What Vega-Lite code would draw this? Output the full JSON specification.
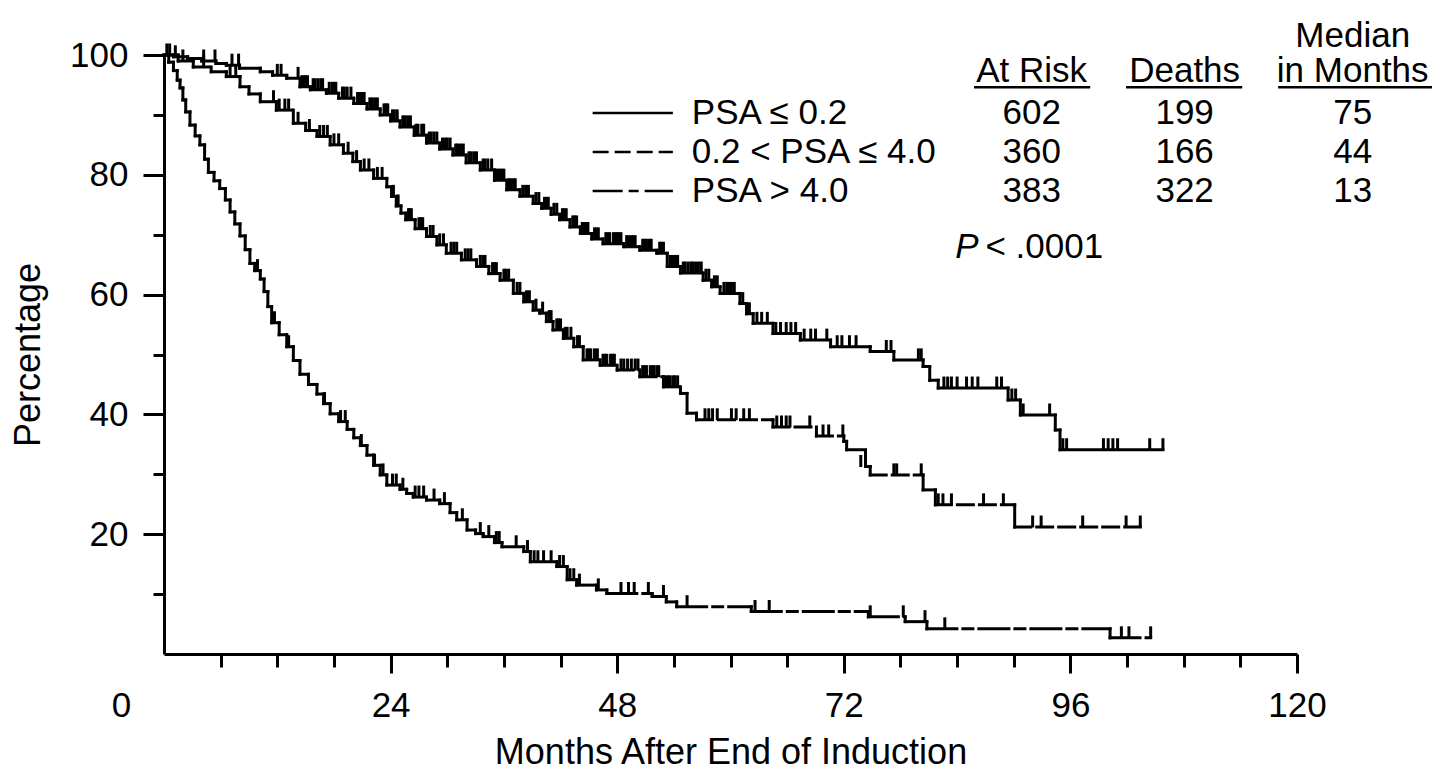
{
  "$schema": "https://vega.github.io/schema/vega-lite/v6.json",
  "width": 1133,
  "height": 599,
  "autosize": {"type": "none"},
  "padding": {"left": 164, "top": 55, "right": 148, "bottom": 126},
  "background": "white",
  "config": {
    "view": {"stroke": null},
    "font": "Liberation Sans",
    "text": {"color": "black", "font": "Liberation Sans", "fontSize": 35},
    "axis": {
      "grid": false,
      "labelFont": "Liberation Sans",
      "titleFont": "Liberation Sans",
      "labelColor": "black",
      "titleColor": "black",
      "domainColor": "black",
      "tickColor": "black",
      "titleFontWeight": "normal",
      "labelFontSize": 35,
      "titleFontSize": 36,
      "domainWidth": 3,
      "tickWidth": 3,
      "labelOverlap": false,
      "labelFlush": false
    }
  },
  "datasets": {
    "km": [
      {"g": "le", "t": 0, "s": 100}, {"g": "le", "t": 1.0, "s": 99.7}, {"g": "le", "t": 2.5, "s": 99.4}, {"g": "le", "t": 4.0, "s": 99.0},
      {"g": "le", "t": 5.5, "s": 98.6}, {"g": "le", "t": 6.6, "s": 98.3}, {"g": "le", "t": 8.0, "s": 97.8}, {"g": "le", "t": 10.2, "s": 97.2},
      {"g": "le", "t": 11.5, "s": 96.6}, {"g": "le", "t": 13.0, "s": 96.1}, {"g": "le", "t": 14.4, "s": 94.7}, {"g": "le", "t": 15.5, "s": 94.2},
      {"g": "le", "t": 17.2, "s": 93.6}, {"g": "le", "t": 18.5, "s": 92.8}, {"g": "le", "t": 20.1, "s": 91.9}, {"g": "le", "t": 21.5, "s": 91.0},
      {"g": "le", "t": 22.9, "s": 90.0}, {"g": "le", "t": 24.0, "s": 89.0}, {"g": "le", "t": 25.0, "s": 88.0}, {"g": "le", "t": 26.5, "s": 86.6},
      {"g": "le", "t": 27.8, "s": 85.3}, {"g": "le", "t": 29.2, "s": 84.3}, {"g": "le", "t": 30.6, "s": 83.3}, {"g": "le", "t": 32.0, "s": 82.0},
      {"g": "le", "t": 33.5, "s": 80.8}, {"g": "le", "t": 35.0, "s": 79.1}, {"g": "le", "t": 36.3, "s": 77.5}, {"g": "le", "t": 37.7, "s": 76.4},
      {"g": "le", "t": 39.1, "s": 75.2}, {"g": "le", "t": 40.0, "s": 74.4}, {"g": "le", "t": 41.0, "s": 73.4}, {"g": "le", "t": 41.9, "s": 72.5},
      {"g": "le", "t": 43.0, "s": 71.3}, {"g": "le", "t": 44.1, "s": 70.2}, {"g": "le", "t": 45.3, "s": 69.3}, {"g": "le", "t": 46.5, "s": 68.5},
      {"g": "le", "t": 48.7, "s": 68.0}, {"g": "le", "t": 50.4, "s": 67.4}, {"g": "le", "t": 52.2, "s": 66.9}, {"g": "le", "t": 53.3, "s": 64.7},
      {"g": "le", "t": 54.7, "s": 63.6}, {"g": "le", "t": 57.1, "s": 62.4}, {"g": "le", "t": 58.0, "s": 61.3}, {"g": "le", "t": 58.9, "s": 60.2},
      {"g": "le", "t": 61.0, "s": 58.5}, {"g": "le", "t": 61.7, "s": 56.8}, {"g": "le", "t": 62.4, "s": 55.2}, {"g": "le", "t": 64.5, "s": 53.5},
      {"g": "le", "t": 67.4, "s": 52.4}, {"g": "le", "t": 70.6, "s": 51.3}, {"g": "le", "t": 74.8, "s": 50.5}, {"g": "le", "t": 77.3, "s": 49.1},
      {"g": "le", "t": 80.4, "s": 48.0}, {"g": "le", "t": 81.1, "s": 45.7}, {"g": "le", "t": 82.0, "s": 44.4}, {"g": "le", "t": 89.4, "s": 42.4},
      {"g": "le", "t": 90.7, "s": 39.9}, {"g": "le", "t": 94.4, "s": 37.4}, {"g": "le", "t": 94.9, "s": 34.1}, {"g": "le", "t": 105.8, "s": 34.1},

      {"g": "mid", "t": 0, "s": 100}, {"g": "mid", "t": 1.5, "s": 99.0}, {"g": "mid", "t": 3.1, "s": 98.0}, {"g": "mid", "t": 5.0, "s": 97.2},
      {"g": "mid", "t": 6.6, "s": 96.4}, {"g": "mid", "t": 8.05, "s": 94.7}, {"g": "mid", "t": 9.0, "s": 93.5}, {"g": "mid", "t": 10.2, "s": 92.2},
      {"g": "mid", "t": 11.9, "s": 90.8}, {"g": "mid", "t": 13.7, "s": 88.6}, {"g": "mid", "t": 15.0, "s": 87.4}, {"g": "mid", "t": 16.2, "s": 86.4},
      {"g": "mid", "t": 17.6, "s": 85.0}, {"g": "mid", "t": 19.0, "s": 83.6}, {"g": "mid", "t": 20.0, "s": 82.2}, {"g": "mid", "t": 20.8, "s": 80.8},
      {"g": "mid", "t": 22.2, "s": 79.4}, {"g": "mid", "t": 23.6, "s": 78.0}, {"g": "mid", "t": 24.1, "s": 76.4}, {"g": "mid", "t": 24.6, "s": 74.8},
      {"g": "mid", "t": 25.1, "s": 73.6}, {"g": "mid", "t": 25.6, "s": 72.5}, {"g": "mid", "t": 26.6, "s": 71.0}, {"g": "mid", "t": 27.8, "s": 69.7},
      {"g": "mid", "t": 28.9, "s": 68.3}, {"g": "mid", "t": 29.9, "s": 66.9}, {"g": "mid", "t": 31.5, "s": 65.8}, {"g": "mid", "t": 33.1, "s": 64.7},
      {"g": "mid", "t": 34.4, "s": 63.5}, {"g": "mid", "t": 35.6, "s": 62.4}, {"g": "mid", "t": 37.0, "s": 60.2}, {"g": "mid", "t": 38.1, "s": 58.8},
      {"g": "mid", "t": 39.1, "s": 57.4}, {"g": "mid", "t": 39.8, "s": 56.9}, {"g": "mid", "t": 40.5, "s": 55.5}, {"g": "mid", "t": 41.2, "s": 54.1},
      {"g": "mid", "t": 42.3, "s": 52.7}, {"g": "mid", "t": 43.4, "s": 51.3}, {"g": "mid", "t": 44.4, "s": 49.1}, {"g": "mid", "t": 46.2, "s": 48.2},
      {"g": "mid", "t": 48.0, "s": 47.4}, {"g": "mid", "t": 50.4, "s": 46.3}, {"g": "mid", "t": 52.9, "s": 44.6}, {"g": "mid", "t": 54.7, "s": 43.5},
      {"g": "mid", "t": 55.4, "s": 40.2}, {"g": "mid", "t": 56.4, "s": 39.1}, {"g": "mid", "t": 64.5, "s": 37.9}, {"g": "mid", "t": 69.1, "s": 36.4},
      {"g": "mid", "t": 72.0, "s": 35.5}, {"g": "mid", "t": 72.3, "s": 34.1}, {"g": "mid", "t": 74.3, "s": 31.3}, {"g": "mid", "t": 74.8, "s": 29.9},
      {"g": "mid", "t": 80.4, "s": 27.4}, {"g": "mid", "t": 81.7, "s": 24.9}, {"g": "mid", "t": 90.1, "s": 21.2}, {"g": "mid", "t": 103.4, "s": 21.2},

      {"g": "hi", "t": 0, "s": 100}, {"g": "hi", "t": 0.5, "s": 98.8}, {"g": "hi", "t": 1.0, "s": 97.4}, {"g": "hi", "t": 1.4, "s": 95.8},
      {"g": "hi", "t": 1.7, "s": 94.5}, {"g": "hi", "t": 2.0, "s": 92.5}, {"g": "hi", "t": 2.3, "s": 90.5}, {"g": "hi", "t": 2.75, "s": 88.3},
      {"g": "hi", "t": 3.3, "s": 86.5}, {"g": "hi", "t": 3.8, "s": 85.0}, {"g": "hi", "t": 4.3, "s": 82.6}, {"g": "hi", "t": 4.7, "s": 80.4},
      {"g": "hi", "t": 5.3, "s": 79.0}, {"g": "hi", "t": 5.9, "s": 77.7}, {"g": "hi", "t": 6.5, "s": 75.8}, {"g": "hi", "t": 7.0, "s": 73.8},
      {"g": "hi", "t": 7.5, "s": 71.8}, {"g": "hi", "t": 8.05, "s": 69.8}, {"g": "hi", "t": 8.6, "s": 67.5}, {"g": "hi", "t": 9.1, "s": 65.2},
      {"g": "hi", "t": 9.6, "s": 64.0}, {"g": "hi", "t": 10.2, "s": 62.6}, {"g": "hi", "t": 10.6, "s": 60.5}, {"g": "hi", "t": 11.0, "s": 58.0},
      {"g": "hi", "t": 11.4, "s": 55.3}, {"g": "hi", "t": 12.2, "s": 53.3}, {"g": "hi", "t": 13.0, "s": 51.3}, {"g": "hi", "t": 13.7, "s": 49.0},
      {"g": "hi", "t": 14.4, "s": 46.7}, {"g": "hi", "t": 15.3, "s": 45.0}, {"g": "hi", "t": 16.2, "s": 43.4}, {"g": "hi", "t": 16.9, "s": 41.8},
      {"g": "hi", "t": 17.6, "s": 40.1}, {"g": "hi", "t": 18.5, "s": 38.8}, {"g": "hi", "t": 19.4, "s": 37.5}, {"g": "hi", "t": 20.1, "s": 36.1},
      {"g": "hi", "t": 20.8, "s": 34.8}, {"g": "hi", "t": 21.5, "s": 33.2}, {"g": "hi", "t": 22.2, "s": 31.5}, {"g": "hi", "t": 22.9, "s": 29.9},
      {"g": "hi", "t": 23.6, "s": 28.2}, {"g": "hi", "t": 25.0, "s": 27.5}, {"g": "hi", "t": 25.7, "s": 26.8}, {"g": "hi", "t": 26.4, "s": 26.2},
      {"g": "hi", "t": 27.8, "s": 25.7}, {"g": "hi", "t": 29.2, "s": 25.1}, {"g": "hi", "t": 30.3, "s": 23.6}, {"g": "hi", "t": 31.0, "s": 22.4},
      {"g": "hi", "t": 32.1, "s": 20.7}, {"g": "hi", "t": 33.0, "s": 20.1}, {"g": "hi", "t": 33.8, "s": 19.6}, {"g": "hi", "t": 35.0, "s": 18.6},
      {"g": "hi", "t": 35.8, "s": 17.9}, {"g": "hi", "t": 38.1, "s": 17.1}, {"g": "hi", "t": 38.8, "s": 15.4}, {"g": "hi", "t": 41.6, "s": 14.6},
      {"g": "hi", "t": 42.7, "s": 12.4}, {"g": "hi", "t": 43.7, "s": 11.5}, {"g": "hi", "t": 45.8, "s": 10.7}, {"g": "hi", "t": 46.9, "s": 10.1},
      {"g": "hi", "t": 51.7, "s": 9.6}, {"g": "hi", "t": 53.2, "s": 8.7}, {"g": "hi", "t": 54.3, "s": 7.9}, {"g": "hi", "t": 62.2, "s": 7.1},
      {"g": "hi", "t": 74.6, "s": 6.2}, {"g": "hi", "t": 78.5, "s": 5.4}, {"g": "hi", "t": 80.8, "s": 4.2}, {"g": "hi", "t": 100.2, "s": 2.7},
      {"g": "hi", "t": 104.5, "s": 2.7}
    ],
    "cens": [
      {"g": "le", "t": 0.3, "s": 100}, {"g": "le", "t": 0.6, "s": 100}, {"g": "le", "t": 1.2, "s": 99.7}, {"g": "le", "t": 4.2, "s": 99.0},
      {"g": "le", "t": 5.4, "s": 99.0}, {"g": "le", "t": 7.2, "s": 98.3}, {"g": "le", "t": 7.9, "s": 98.3}, {"g": "le", "t": 12.0, "s": 96.6},
      {"g": "le", "t": 12.4, "s": 96.6}, {"g": "le", "t": 14.2, "s": 96.1}, {"g": "le", "t": 14.6, "s": 94.7}, {"g": "le", "t": 14.8, "s": 94.7},
      {"g": "le", "t": 15.0, "s": 94.7}, {"g": "le", "t": 15.2, "s": 94.7}, {"g": "le", "t": 15.8, "s": 94.2}, {"g": "le", "t": 16.0, "s": 94.2},
      {"g": "le", "t": 16.3, "s": 94.2}, {"g": "le", "t": 16.6, "s": 94.2}, {"g": "le", "t": 16.8, "s": 94.2}, {"g": "le", "t": 17.5, "s": 93.6},
      {"g": "le", "t": 17.8, "s": 93.6}, {"g": "le", "t": 18.0, "s": 93.6}, {"g": "le", "t": 18.2, "s": 93.6}, {"g": "le", "t": 18.9, "s": 92.8},
      {"g": "le", "t": 19.1, "s": 92.8}, {"g": "le", "t": 19.4, "s": 92.8}, {"g": "le", "t": 19.8, "s": 92.8}, {"g": "le", "t": 20.5, "s": 91.9},
      {"g": "le", "t": 20.8, "s": 91.9}, {"g": "le", "t": 21.0, "s": 91.9}, {"g": "le", "t": 21.2, "s": 91.9}, {"g": "le", "t": 21.8, "s": 91.0},
      {"g": "le", "t": 22.0, "s": 91.0}, {"g": "le", "t": 22.3, "s": 91.0}, {"g": "le", "t": 22.6, "s": 91.0}, {"g": "le", "t": 23.3, "s": 90.0},
      {"g": "le", "t": 23.5, "s": 90.0}, {"g": "le", "t": 23.7, "s": 90.0}, {"g": "le", "t": 24.2, "s": 89.0}, {"g": "le", "t": 24.4, "s": 89.0},
      {"g": "le", "t": 24.7, "s": 89.0}, {"g": "le", "t": 25.3, "s": 88.0}, {"g": "le", "t": 25.5, "s": 88.0}, {"g": "le", "t": 25.8, "s": 88.0},
      {"g": "le", "t": 26.1, "s": 88.0}, {"g": "le", "t": 26.7, "s": 86.6}, {"g": "le", "t": 26.9, "s": 86.6}, {"g": "le", "t": 27.3, "s": 86.6},
      {"g": "le", "t": 27.5, "s": 86.6}, {"g": "le", "t": 28.1, "s": 85.3}, {"g": "le", "t": 28.3, "s": 85.3}, {"g": "le", "t": 28.6, "s": 85.3},
      {"g": "le", "t": 28.9, "s": 85.3}, {"g": "le", "t": 29.5, "s": 84.3}, {"g": "le", "t": 29.8, "s": 84.3}, {"g": "le", "t": 30.0, "s": 84.3},
      {"g": "le", "t": 30.3, "s": 84.3}, {"g": "le", "t": 30.9, "s": 83.3}, {"g": "le", "t": 31.1, "s": 83.3}, {"g": "le", "t": 31.4, "s": 83.3},
      {"g": "le", "t": 31.7, "s": 83.3}, {"g": "le", "t": 32.3, "s": 82.0}, {"g": "le", "t": 32.5, "s": 82.0}, {"g": "le", "t": 32.8, "s": 82.0},
      {"g": "le", "t": 33.1, "s": 82.0}, {"g": "le", "t": 33.8, "s": 80.8}, {"g": "le", "t": 34.0, "s": 80.8}, {"g": "le", "t": 34.3, "s": 80.8},
      {"g": "le", "t": 34.7, "s": 80.8}, {"g": "le", "t": 35.2, "s": 79.1}, {"g": "le", "t": 35.4, "s": 79.1}, {"g": "le", "t": 35.6, "s": 79.1},
      {"g": "le", "t": 35.8, "s": 79.1}, {"g": "le", "t": 36.0, "s": 79.1}, {"g": "le", "t": 36.5, "s": 77.5}, {"g": "le", "t": 36.7, "s": 77.5},
      {"g": "le", "t": 37.0, "s": 77.5}, {"g": "le", "t": 37.2, "s": 77.5}, {"g": "le", "t": 38.0, "s": 76.4}, {"g": "le", "t": 38.3, "s": 76.4},
      {"g": "le", "t": 38.6, "s": 76.4}, {"g": "le", "t": 39.4, "s": 75.2}, {"g": "le", "t": 39.7, "s": 75.2}, {"g": "le", "t": 40.3, "s": 74.4},
      {"g": "le", "t": 40.5, "s": 74.4}, {"g": "le", "t": 40.7, "s": 74.4}, {"g": "le", "t": 41.3, "s": 73.4}, {"g": "le", "t": 41.6, "s": 73.4},
      {"g": "le", "t": 42.2, "s": 72.5}, {"g": "le", "t": 42.4, "s": 72.5}, {"g": "le", "t": 42.6, "s": 72.5}, {"g": "le", "t": 43.3, "s": 71.3},
      {"g": "le", "t": 43.5, "s": 71.3}, {"g": "le", "t": 43.7, "s": 71.3}, {"g": "le", "t": 44.3, "s": 70.2}, {"g": "le", "t": 44.5, "s": 70.2},
      {"g": "le", "t": 44.7, "s": 70.2}, {"g": "le", "t": 44.9, "s": 70.2}, {"g": "le", "t": 45.6, "s": 69.3}, {"g": "le", "t": 45.8, "s": 69.3},
      {"g": "le", "t": 46.0, "s": 69.3}, {"g": "le", "t": 46.8, "s": 68.5}, {"g": "le", "t": 47.0, "s": 68.5}, {"g": "le", "t": 47.2, "s": 68.5},
      {"g": "le", "t": 47.6, "s": 68.5}, {"g": "le", "t": 47.8, "s": 68.5}, {"g": "le", "t": 48.0, "s": 68.5}, {"g": "le", "t": 48.2, "s": 68.5},
      {"g": "le", "t": 48.4, "s": 68.5}, {"g": "le", "t": 49.0, "s": 68.0}, {"g": "le", "t": 49.2, "s": 68.0}, {"g": "le", "t": 49.5, "s": 68.0},
      {"g": "le", "t": 49.7, "s": 68.0}, {"g": "le", "t": 49.9, "s": 68.0}, {"g": "le", "t": 50.7, "s": 67.4}, {"g": "le", "t": 50.9, "s": 67.4},
      {"g": "le", "t": 51.1, "s": 67.4}, {"g": "le", "t": 51.4, "s": 67.4}, {"g": "le", "t": 51.6, "s": 67.4}, {"g": "le", "t": 52.5, "s": 66.9},
      {"g": "le", "t": 52.7, "s": 66.9}, {"g": "le", "t": 52.9, "s": 66.9}, {"g": "le", "t": 53.6, "s": 64.7}, {"g": "le", "t": 53.8, "s": 64.7},
      {"g": "le", "t": 54.0, "s": 64.7}, {"g": "le", "t": 54.2, "s": 64.7}, {"g": "le", "t": 54.4, "s": 64.7}, {"g": "le", "t": 55.0, "s": 63.6},
      {"g": "le", "t": 55.2, "s": 63.6}, {"g": "le", "t": 55.5, "s": 63.6}, {"g": "le", "t": 55.8, "s": 63.6}, {"g": "le", "t": 56.0, "s": 63.6},
      {"g": "le", "t": 56.3, "s": 63.6}, {"g": "le", "t": 56.6, "s": 63.6}, {"g": "le", "t": 56.9, "s": 63.6}, {"g": "le", "t": 57.4, "s": 62.4},
      {"g": "le", "t": 57.7, "s": 62.4}, {"g": "le", "t": 58.3, "s": 61.3}, {"g": "le", "t": 58.6, "s": 61.3}, {"g": "le", "t": 59.3, "s": 60.2},
      {"g": "le", "t": 59.6, "s": 60.2}, {"g": "le", "t": 59.8, "s": 60.2}, {"g": "le", "t": 60.1, "s": 60.2}, {"g": "le", "t": 60.4, "s": 60.2},
      {"g": "le", "t": 61.3, "s": 58.5}, {"g": "le", "t": 62.0, "s": 56.8}, {"g": "le", "t": 62.8, "s": 55.2}, {"g": "le", "t": 63.3, "s": 55.2},
      {"g": "le", "t": 63.9, "s": 55.2}, {"g": "le", "t": 64.8, "s": 53.5}, {"g": "le", "t": 65.3, "s": 53.5}, {"g": "le", "t": 65.9, "s": 53.5},
      {"g": "le", "t": 66.4, "s": 53.5}, {"g": "le", "t": 66.9, "s": 53.5}, {"g": "le", "t": 67.8, "s": 52.4}, {"g": "le", "t": 68.5, "s": 52.4},
      {"g": "le", "t": 69.0, "s": 52.4}, {"g": "le", "t": 70.2, "s": 52.4}, {"g": "le", "t": 71.3, "s": 51.3}, {"g": "le", "t": 71.8, "s": 51.3},
      {"g": "le", "t": 72.6, "s": 51.3}, {"g": "le", "t": 73.3, "s": 51.3}, {"g": "le", "t": 76.5, "s": 50.5}, {"g": "le", "t": 77.0, "s": 50.5},
      {"g": "le", "t": 79.9, "s": 49.1}, {"g": "le", "t": 80.2, "s": 49.1}, {"g": "le", "t": 82.6, "s": 44.4}, {"g": "le", "t": 83.0, "s": 44.4},
      {"g": "le", "t": 83.4, "s": 44.4}, {"g": "le", "t": 84.0, "s": 44.4}, {"g": "le", "t": 85.0, "s": 44.4}, {"g": "le", "t": 85.6, "s": 44.4},
      {"g": "le", "t": 86.2, "s": 44.4}, {"g": "le", "t": 88.2, "s": 44.4}, {"g": "le", "t": 88.7, "s": 44.4}, {"g": "le", "t": 89.8, "s": 42.4},
      {"g": "le", "t": 90.2, "s": 42.4}, {"g": "le", "t": 91.0, "s": 39.9}, {"g": "le", "t": 93.8, "s": 39.9}, {"g": "le", "t": 95.2, "s": 34.1},
      {"g": "le", "t": 95.6, "s": 34.1}, {"g": "le", "t": 99.5, "s": 34.1}, {"g": "le", "t": 100.0, "s": 34.1}, {"g": "le", "t": 100.5, "s": 34.1},
      {"g": "le", "t": 101.0, "s": 34.1}, {"g": "le", "t": 104.4, "s": 34.1}, {"g": "le", "t": 105.8, "s": 34.1},

      {"g": "mid", "t": 2.0, "s": 99.0}, {"g": "mid", "t": 4.2, "s": 98.0}, {"g": "mid", "t": 7.0, "s": 96.4}, {"g": "mid", "t": 7.6, "s": 96.4},
      {"g": "mid", "t": 11.6, "s": 92.2}, {"g": "mid", "t": 12.2, "s": 90.8}, {"g": "mid", "t": 12.8, "s": 90.8}, {"g": "mid", "t": 13.2, "s": 90.8},
      {"g": "mid", "t": 14.2, "s": 88.6}, {"g": "mid", "t": 15.4, "s": 87.4}, {"g": "mid", "t": 16.5, "s": 86.4}, {"g": "mid", "t": 16.9, "s": 86.4},
      {"g": "mid", "t": 17.3, "s": 86.4}, {"g": "mid", "t": 18.0, "s": 85.0}, {"g": "mid", "t": 18.5, "s": 85.0}, {"g": "mid", "t": 19.5, "s": 83.6},
      {"g": "mid", "t": 20.4, "s": 82.2}, {"g": "mid", "t": 21.2, "s": 80.8}, {"g": "mid", "t": 21.7, "s": 80.8}, {"g": "mid", "t": 22.6, "s": 79.4},
      {"g": "mid", "t": 23.1, "s": 79.4}, {"g": "mid", "t": 24.3, "s": 76.4}, {"g": "mid", "t": 24.8, "s": 74.8}, {"g": "mid", "t": 25.9, "s": 72.5},
      {"g": "mid", "t": 26.0, "s": 72.5}, {"g": "mid", "t": 26.2, "s": 72.5}, {"g": "mid", "t": 27.0, "s": 71.0}, {"g": "mid", "t": 27.2, "s": 71.0},
      {"g": "mid", "t": 27.4, "s": 71.0}, {"g": "mid", "t": 28.2, "s": 69.7}, {"g": "mid", "t": 28.5, "s": 69.7}, {"g": "mid", "t": 29.2, "s": 68.3},
      {"g": "mid", "t": 29.6, "s": 68.3}, {"g": "mid", "t": 30.4, "s": 66.9}, {"g": "mid", "t": 30.7, "s": 66.9}, {"g": "mid", "t": 31.0, "s": 66.9},
      {"g": "mid", "t": 31.9, "s": 65.8}, {"g": "mid", "t": 32.2, "s": 65.8}, {"g": "mid", "t": 32.5, "s": 65.8}, {"g": "mid", "t": 33.5, "s": 64.7},
      {"g": "mid", "t": 33.8, "s": 64.7}, {"g": "mid", "t": 34.0, "s": 64.7}, {"g": "mid", "t": 34.8, "s": 63.5}, {"g": "mid", "t": 35.0, "s": 63.5},
      {"g": "mid", "t": 35.2, "s": 63.5}, {"g": "mid", "t": 36.0, "s": 62.4}, {"g": "mid", "t": 36.2, "s": 62.4}, {"g": "mid", "t": 36.5, "s": 62.4},
      {"g": "mid", "t": 37.4, "s": 60.2}, {"g": "mid", "t": 37.7, "s": 60.2}, {"g": "mid", "t": 38.4, "s": 58.8}, {"g": "mid", "t": 38.7, "s": 58.8},
      {"g": "mid", "t": 39.4, "s": 57.4}, {"g": "mid", "t": 40.1, "s": 56.9}, {"g": "mid", "t": 40.8, "s": 55.5}, {"g": "mid", "t": 41.0, "s": 55.5},
      {"g": "mid", "t": 41.6, "s": 54.1}, {"g": "mid", "t": 41.8, "s": 54.1}, {"g": "mid", "t": 42.0, "s": 54.1}, {"g": "mid", "t": 42.5, "s": 52.7},
      {"g": "mid", "t": 42.7, "s": 52.7}, {"g": "mid", "t": 43.1, "s": 52.7}, {"g": "mid", "t": 43.8, "s": 51.3}, {"g": "mid", "t": 44.0, "s": 51.3},
      {"g": "mid", "t": 44.8, "s": 49.1}, {"g": "mid", "t": 45.0, "s": 49.1}, {"g": "mid", "t": 45.2, "s": 49.1}, {"g": "mid", "t": 45.6, "s": 49.1},
      {"g": "mid", "t": 45.9, "s": 49.1}, {"g": "mid", "t": 46.5, "s": 48.2}, {"g": "mid", "t": 46.7, "s": 48.2}, {"g": "mid", "t": 46.9, "s": 48.2},
      {"g": "mid", "t": 47.3, "s": 48.2}, {"g": "mid", "t": 47.5, "s": 48.2}, {"g": "mid", "t": 47.7, "s": 48.2}, {"g": "mid", "t": 48.4, "s": 47.4},
      {"g": "mid", "t": 48.7, "s": 47.4}, {"g": "mid", "t": 49.1, "s": 47.4}, {"g": "mid", "t": 49.5, "s": 47.4}, {"g": "mid", "t": 49.9, "s": 47.4},
      {"g": "mid", "t": 50.2, "s": 47.4}, {"g": "mid", "t": 50.7, "s": 46.3}, {"g": "mid", "t": 50.9, "s": 46.3}, {"g": "mid", "t": 51.1, "s": 46.3},
      {"g": "mid", "t": 51.5, "s": 46.3}, {"g": "mid", "t": 51.7, "s": 46.3}, {"g": "mid", "t": 51.9, "s": 46.3}, {"g": "mid", "t": 52.2, "s": 46.3},
      {"g": "mid", "t": 52.4, "s": 46.3}, {"g": "mid", "t": 53.2, "s": 44.6}, {"g": "mid", "t": 53.4, "s": 44.6}, {"g": "mid", "t": 53.6, "s": 44.6},
      {"g": "mid", "t": 53.9, "s": 44.6}, {"g": "mid", "t": 54.1, "s": 44.6}, {"g": "mid", "t": 54.4, "s": 44.6}, {"g": "mid", "t": 57.3, "s": 39.1},
      {"g": "mid", "t": 57.7, "s": 39.1}, {"g": "mid", "t": 58.1, "s": 39.1}, {"g": "mid", "t": 58.6, "s": 39.1}, {"g": "mid", "t": 60.1, "s": 39.1},
      {"g": "mid", "t": 60.6, "s": 39.1}, {"g": "mid", "t": 61.4, "s": 39.1}, {"g": "mid", "t": 62.0, "s": 39.1}, {"g": "mid", "t": 64.9, "s": 37.9},
      {"g": "mid", "t": 65.4, "s": 37.9}, {"g": "mid", "t": 65.9, "s": 37.9}, {"g": "mid", "t": 66.3, "s": 37.9}, {"g": "mid", "t": 68.4, "s": 37.9},
      {"g": "mid", "t": 69.8, "s": 36.4}, {"g": "mid", "t": 70.4, "s": 36.4}, {"g": "mid", "t": 71.9, "s": 36.4}, {"g": "mid", "t": 73.8, "s": 31.3},
      {"g": "mid", "t": 77.3, "s": 29.9}, {"g": "mid", "t": 77.6, "s": 29.9}, {"g": "mid", "t": 80.2, "s": 29.9}, {"g": "mid", "t": 82.0, "s": 24.9},
      {"g": "mid", "t": 82.5, "s": 24.9}, {"g": "mid", "t": 83.4, "s": 24.9}, {"g": "mid", "t": 86.8, "s": 24.9}, {"g": "mid", "t": 88.9, "s": 24.9},
      {"g": "mid", "t": 92.0, "s": 21.2}, {"g": "mid", "t": 92.9, "s": 21.2}, {"g": "mid", "t": 97.3, "s": 21.2}, {"g": "mid", "t": 101.9, "s": 21.2},
      {"g": "mid", "t": 103.4, "s": 21.2},

      {"g": "hi", "t": 9.9, "s": 64.0}, {"g": "hi", "t": 11.7, "s": 55.3}, {"g": "hi", "t": 13.2, "s": 51.3}, {"g": "hi", "t": 17.0, "s": 41.8},
      {"g": "hi", "t": 18.7, "s": 38.8}, {"g": "hi", "t": 19.2, "s": 38.8}, {"g": "hi", "t": 20.9, "s": 34.8}, {"g": "hi", "t": 22.3, "s": 31.5},
      {"g": "hi", "t": 23.2, "s": 29.9}, {"g": "hi", "t": 24.2, "s": 28.2}, {"g": "hi", "t": 24.6, "s": 28.2}, {"g": "hi", "t": 25.3, "s": 27.5},
      {"g": "hi", "t": 26.6, "s": 26.2}, {"g": "hi", "t": 27.0, "s": 26.2}, {"g": "hi", "t": 27.5, "s": 26.2}, {"g": "hi", "t": 28.6, "s": 25.7},
      {"g": "hi", "t": 29.7, "s": 25.1}, {"g": "hi", "t": 31.6, "s": 22.4}, {"g": "hi", "t": 33.5, "s": 20.1}, {"g": "hi", "t": 34.4, "s": 19.6},
      {"g": "hi", "t": 35.2, "s": 18.6}, {"g": "hi", "t": 35.5, "s": 18.6}, {"g": "hi", "t": 37.3, "s": 17.9}, {"g": "hi", "t": 38.5, "s": 17.1},
      {"g": "hi", "t": 39.2, "s": 15.4}, {"g": "hi", "t": 39.6, "s": 15.4}, {"g": "hi", "t": 40.2, "s": 15.4}, {"g": "hi", "t": 41.0, "s": 15.4},
      {"g": "hi", "t": 41.9, "s": 14.6}, {"g": "hi", "t": 42.3, "s": 14.6}, {"g": "hi", "t": 43.0, "s": 12.4}, {"g": "hi", "t": 43.4, "s": 12.4},
      {"g": "hi", "t": 44.0, "s": 11.5}, {"g": "hi", "t": 46.0, "s": 10.7}, {"g": "hi", "t": 48.4, "s": 10.1}, {"g": "hi", "t": 49.2, "s": 10.1},
      {"g": "hi", "t": 49.8, "s": 10.1}, {"g": "hi", "t": 51.3, "s": 10.1}, {"g": "hi", "t": 52.9, "s": 9.6}, {"g": "hi", "t": 55.4, "s": 7.9},
      {"g": "hi", "t": 62.6, "s": 7.1}, {"g": "hi", "t": 64.1, "s": 7.1}, {"g": "hi", "t": 74.8, "s": 6.2}, {"g": "hi", "t": 78.3, "s": 6.2},
      {"g": "hi", "t": 80.6, "s": 5.4}, {"g": "hi", "t": 82.7, "s": 4.2}, {"g": "hi", "t": 101.4, "s": 2.7}, {"g": "hi", "t": 102.2, "s": 2.7},
      {"g": "hi", "t": 104.5, "s": 2.7}
    ],
    "table": [
      {"g": "le", "label": "PSA ≤ 0.2", "risk": 602, "deaths": 199, "median": 75},
      {"g": "mid", "label": "0.2 < PSA ≤ 4.0", "risk": 360, "deaths": 166, "median": 44},
      {"g": "hi", "label": "PSA > 4.0", "risk": 383, "deaths": 322, "median": 13}
    ]
  },
  "layer": [
    {
      "layer": [
        {
          "data": {"name": "km"},
          "transform": [
            {"window": [{"op": "lead", "field": "t", "as": "t2"}, {"op": "lead", "field": "s", "as": "s2"}], "groupby": ["g"], "sort": [{"field": "t"}]},
            {"filter": "datum.t2 != null"}
          ],
          "mark": {"type": "rule", "color": "black", "strokeWidth": 3, "strokeCap": "square"},
          "encoding": {
            "x": {
              "field": "t", "type": "quantitative", "title": "Months After End of Induction",
              "scale": {"domain": [0, 120], "nice": false},
              "axis": {
                "values": [0, 6, 12, 18, 24, 30, 36, 42, 48, 54, 60, 66, 72, 78, 84, 90, 96, 102, 108, 114, 120],
                "labelExpr": "datum.value % 24 === 0 ? datum.label : ''",
                "labelOffset": {"condition": {"test": "datum.value === 0", "value": -43}, "value": 0},
                "tickSize": {"condition": {"test": "datum.value % 24 === 0", "value": 19}, "value": 13},
                "tickOpacity": {"condition": {"test": "datum.value === 0", "value": 0}, "value": 1},
                "labelPadding": 15,
                "titlePadding": 12
              }
            },
            "x2": {"field": "t2"},
            "y": {
              "field": "s", "type": "quantitative", "title": "Percentage",
              "scale": {"domain": [0, 100], "nice": false},
              "axis": {
                "values": [10, 20, 30, 40, 50, 60, 70, 80, 90, 100],
                "labelExpr": "datum.value % 20 === 0 ? datum.label : ''",
                "tickSize": {"condition": {"test": "datum.value % 20 === 0", "value": 21}, "value": 11},
                "labelPadding": 15,
                "titlePadding": 22
              }
            },
            "strokeDash": {
              "field": "g", "type": "nominal", "legend": null,
              "scale": {"domain": ["le", "mid", "hi"], "range": [[1, 0], [16, 6], [30, 6, 10, 6]]}
            }
          }
        },
        {
          "data": {"name": "km"},
          "transform": [
            {"window": [{"op": "lead", "field": "t", "as": "t2"}, {"op": "lead", "field": "s", "as": "s2"}], "groupby": ["g"], "sort": [{"field": "t"}]},
            {"filter": "datum.t2 != null && datum.s2 < datum.s"}
          ],
          "mark": {"type": "rule", "color": "black", "strokeWidth": 3, "strokeCap": "square"},
          "encoding": {
            "x": {"field": "t2", "type": "quantitative", "title": "Months After End of Induction"},
            "y": {"field": "s", "type": "quantitative", "title": "Percentage"},
            "y2": {"field": "s2"}
          }
        },
        {
          "data": {"name": "cens"},
          "mark": {"type": "tick", "orient": "vertical", "color": "black", "size": 12, "thickness": 3, "yOffset": -5.5, "opacity": 1},
          "encoding": {
            "x": {"field": "t", "type": "quantitative", "title": "Months After End of Induction"},
            "y": {"field": "s", "type": "quantitative", "title": "Percentage"}
          }
        },
        {
          "data": {"values": [{}]},
          "layer": [
            {
              "mark": {"type": "text", "text": "At Risk", "align": "center", "baseline": "middle"},
              "encoding": {"x": {"datum": 91.9}, "y": {"datum": 97.3}}
            },
            {
              "mark": {"type": "text", "text": "Deaths", "align": "center", "baseline": "middle"},
              "encoding": {"x": {"datum": 108.1}, "y": {"datum": 97.3}}
            },
            {
              "mark": {"type": "text", "text": "Median", "align": "center", "baseline": "middle"},
              "encoding": {"x": {"datum": 125.9}, "y": {"datum": 103.2}}
            },
            {
              "mark": {"type": "text", "text": "in Months", "align": "center", "baseline": "middle"},
              "encoding": {"x": {"datum": 125.9}, "y": {"datum": 97.3}}
            },
            {
              "mark": {"type": "rule", "color": "black", "strokeWidth": 2.5},
              "encoding": {"x": {"datum": 85.8}, "x2": {"datum": 98.1}, "y": {"datum": 94.6}}
            },
            {
              "mark": {"type": "rule", "color": "black", "strokeWidth": 2.5},
              "encoding": {"x": {"datum": 101.9}, "x2": {"datum": 114.2}, "y": {"datum": 94.6}}
            },
            {
              "mark": {"type": "rule", "color": "black", "strokeWidth": 2.5},
              "encoding": {"x": {"datum": 118.0}, "x2": {"datum": 134.3}, "y": {"datum": 94.6}}
            },
            {
              "mark": {"type": "text", "text": "P", "fontStyle": "italic", "align": "left", "baseline": "middle"},
              "encoding": {"x": {"datum": 83.8}, "y": {"datum": 67.9}}
            },
            {
              "mark": {"type": "text", "text": "< .0001", "align": "left", "baseline": "middle"},
              "encoding": {"x": {"datum": 87.0}, "y": {"datum": 67.9}}
            }
          ]
        }
      ]
    },
    {
      "data": {"name": "table"},
      "encoding": {
        "y": {
          "field": "g", "type": "nominal", "axis": null,
          "scale": {"type": "point", "domain": ["le", "mid", "hi"], "range": [58, 136], "padding": 0}
        }
      },
      "layer": [
        {
          "mark": {"type": "rule", "color": "black", "strokeWidth": 2.5},
          "encoding": {
            "x": {"datum": 45.4},
            "x2": {"datum": 53.9},
            "strokeDash": {"field": "g", "type": "nominal", "legend": null}
          }
        },
        {
          "mark": {"type": "text", "align": "left", "baseline": "middle"},
          "encoding": {"x": {"datum": 55.9}, "text": {"field": "label"}}
        },
        {
          "mark": {"type": "text", "align": "center", "baseline": "middle"},
          "encoding": {"x": {"datum": 91.9}, "text": {"field": "risk"}}
        },
        {
          "mark": {"type": "text", "align": "center", "baseline": "middle"},
          "encoding": {"x": {"datum": 108.1}, "text": {"field": "deaths"}}
        },
        {
          "mark": {"type": "text", "align": "center", "baseline": "middle"},
          "encoding": {"x": {"datum": 125.9}, "text": {"field": "median"}}
        }
      ]
    }
  ],
  "resolve": {"scale": {"y": "independent"}}
}
